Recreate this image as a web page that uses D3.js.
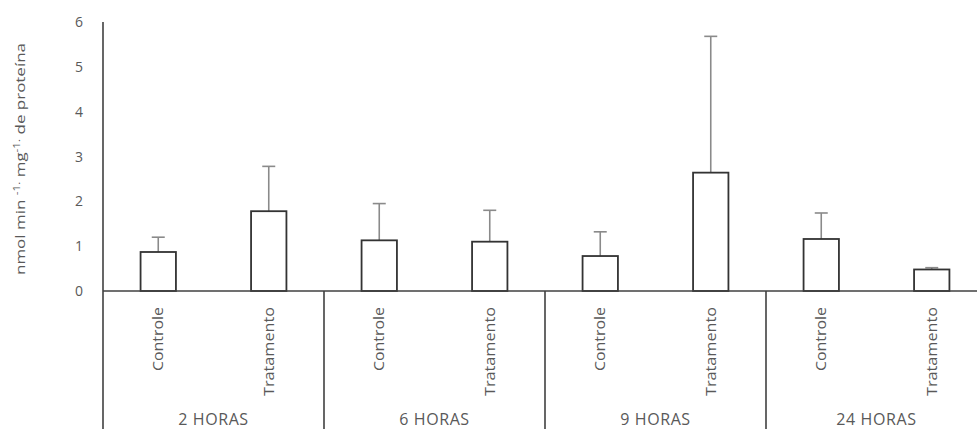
<!DOCTYPE html>
<html>
<head>
<meta charset="utf-8">
<script src="https://cdn.jsdelivr.net/npm/d3@7"></script>
<style>
  html, body { margin: 0; padding: 0; background: #fff; }
  svg { display: block; overflow: hidden; }
  text { font-family: "Open Sans", "Noto Sans", sans-serif; fill: #595959; }
</style>
</head>
<body>
<svg id="chart" width="977" height="429"></svg>
<script>
// Time points (outer categories) and treatments (inner categories)
const groups = ["2 HORAS", "6 HORAS", "9 HORAS", "24 HORAS"];
const treatments = ["Controle", "Tratamento"];

// Mean activity per time point, in treatment order
const controleMeans   = [0.87, 1.13, 0.78, 1.16];
const tratamentoMeans = [1.78, 1.10, 2.64, 0.48];
// Upper error (standard deviation) per time point
const controleErr     = [0.33, 0.82, 0.54, 0.58];
const tratamentoErr   = [1.00, 0.70, 3.04, 0.04];

const yTicks = [0, 1, 2, 3, 4, 5, 6];

const rows = [];
groups.forEach((g, i) => {
  rows.push({ group: g, treatment: "Controle", value: controleMeans[i], err: controleErr[i] });
  rows.push({ group: g, treatment: "Tratamento", value: tratamentoMeans[i], err: tratamentoErr[i] });
});

const svg = d3.select("#chart");
const axisColor = "#404040";
const plotLeft = 103, plotTop = 22, baseY = 291, groupWidth = 221;

const x0 = d3.scaleBand().domain(groups).range([plotLeft, plotLeft + groupWidth * groups.length]).padding(0);
const x1 = d3.scaleBand().domain(treatments).range([0, x0.bandwidth()]).paddingInner(0.68).paddingOuter(0.34);
const y = d3.scaleLinear().domain([0, 6]).range([baseY, plotTop]);

// y tick labels
svg.append("g").selectAll("text").data(yTicks).join("text")
  .attr("x", 79).attr("y", d => y(d)).attr("dy", "0.36em")
  .attr("text-anchor", "middle").attr("font-size", 14)
  .text(d => d);

// y axis title with superscripts
const title = svg.append("text")
  .attr("transform", `translate(25,159) rotate(-90)`)
  .attr("text-anchor", "middle").attr("font-size", 13)
  .attr("textLength", 232).attr("lengthAdjust", "spacingAndGlyphs");
title.append("tspan").text("nmol min ");
title.append("tspan").attr("font-size", 9).attr("dy", -5).text("-1.");
title.append("tspan").attr("dy", 5).text(" mg");
title.append("tspan").attr("font-size", 9).attr("dy", -5).text("-1.");
title.append("tspan").attr("dy", 5).text(" de proteína");

// error bars (drawn beneath the bar outlines)
const eb = svg.append("g").attr("stroke", "#8a8a8a").attr("stroke-width", 1.6);
rows.forEach(d => {
  const cx = x0(d.group) + x1(d.treatment) + x1.bandwidth() / 2;
  eb.append("line").attr("x1", cx).attr("x2", cx).attr("y1", y(d.value)).attr("y2", y(d.value + d.err));
  eb.append("line").attr("x1", cx - 6.5).attr("x2", cx + 6.5).attr("y1", y(d.value + d.err)).attr("y2", y(d.value + d.err));
});

// bars
svg.append("g").selectAll("rect").data(rows).join("rect")
  .attr("x", d => x0(d.group) + x1(d.treatment))
  .attr("y", d => y(d.value))
  .attr("width", x1.bandwidth())
  .attr("height", d => baseY - y(d.value))
  .attr("fill", "#fff").attr("stroke", "#333").attr("stroke-width", 1.8);

// axes lines
svg.append("line").attr("x1", plotLeft).attr("x2", plotLeft).attr("y1", plotTop).attr("y2", 429)
  .attr("stroke", axisColor).attr("stroke-width", 1.6);
svg.append("line").attr("x1", plotLeft).attr("x2", 977).attr("y1", baseY).attr("y2", baseY)
  .attr("stroke", axisColor).attr("stroke-width", 1.6);

// group separators below the baseline
svg.append("g").selectAll("line").data(groups.slice(1)).join("line")
  .attr("x1", d => x0(d)).attr("x2", d => x0(d)).attr("y1", baseY).attr("y2", 429)
  .attr("stroke", axisColor).attr("stroke-width", 1.6);

// treatment labels (rotated)
svg.append("g").selectAll("text").data(rows).join("text")
  .attr("transform", d => `translate(${x0(d.group) + x1(d.treatment) + x1.bandwidth() / 2 + 5},307) rotate(-90)`)
  .attr("text-anchor", "end").attr("font-size", 14)
  .attr("textLength", d => d.treatment === "Controle" ? 64 : 89)
  .attr("lengthAdjust", "spacingAndGlyphs")
  .text(d => d.treatment);

// group labels
svg.append("g").selectAll("text").data(groups).join("text")
  .attr("x", d => x0(d) + x0.bandwidth() / 2).attr("y", 425)
  .attr("text-anchor", "middle").attr("font-size", 16).attr("letter-spacing", 0.6)
  .text(d => d);
</script>
</body>
</html>
